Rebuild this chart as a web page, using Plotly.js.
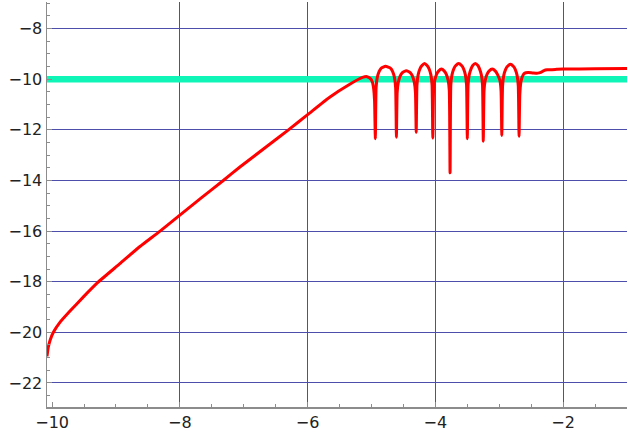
<!DOCTYPE html>
<html>
<head>
<meta charset="utf-8">
<script src="https://cdn.plot.ly/plotly-3.0.1.min.js"></script>
<style>
  html, body { margin: 0; padding: 0; background: #fff; }
  #chart { width: 628px; height: 436px; }
</style>
</head>
<body>
<div id="chart"></div>
<script>
// red curve (smooth rise, then the comb of dips)
var curveX = [
  -10.08, -10.06, -10.03, -9.98, -9.875, -9.72, -9.51, -9.28, -8.94, -8.63, -8.31, -8.0,
  -7.66, -7.32, -7.06, -6.62, -6.3, -6.0, -5.66, -5.34, -5.14, -5.07, -5.02, -4.985, -4.965, -4.952,
  -4.94, -4.928, -4.91, -4.88, -4.85, -4.78, -4.70, -4.67, -4.64, -4.622,
  -4.61, -4.598, -4.58, -4.55, -4.52, -4.455, -4.39, -4.36, -4.33, -4.312,
  -4.30, -4.288, -4.27, -4.24, -4.21, -4.17, -4.13, -4.10, -4.07, -4.052,
  -4.04, -4.028, -4.01, -3.98, -3.95, -3.905, -3.86, -3.83, -3.80, -3.782,
  -3.77, -3.758, -3.74, -3.71, -3.68, -3.635, -3.59, -3.56, -3.53, -3.512,
  -3.50, -3.488, -3.47, -3.44, -3.415, -3.375, -3.335, -3.31, -3.28, -3.262,
  -3.25, -3.238, -3.22, -3.19, -3.16, -3.11, -3.06, -3.03, -2.99, -2.972,
  -2.96, -2.948, -2.93, -2.90, -2.87, -2.825, -2.78, -2.75, -2.72, -2.702,
  -2.69, -2.678, -2.66, -2.63, -2.60, -2.55, -2.48, -2.40, -2.35, -2.30, -2.25, -2.1, -2.0, -1.5, -1.0
];
var curveY = [
  -20.95, -20.59, -20.3, -20.0, -19.6, -19.16, -18.6, -18.02, -17.29, -16.62, -16.0, -15.37,
  -14.68, -14.0, -13.47, -12.62, -12.0, -11.4, -10.72, -10.2, -9.93, -9.9, -9.97, -10.12, -10.4, -10.85,
  -12.35, -10.34, -9.94, -9.69, -9.57, -9.49, -9.57, -9.69, -9.94, -10.34,
  -12.29, -10.52, -10.12, -9.87, -9.75, -9.67, -9.75, -9.87, -10.12, -10.52,
  -12.1, -10.23, -9.83, -9.58, -9.46, -9.38, -9.46, -9.58, -9.83, -10.23,
  -12.32, -10.45, -10.05, -9.8, -9.68, -9.6, -9.68, -9.8, -10.05, -10.45,
  -13.7, -10.23, -9.83, -9.58, -9.46, -9.38, -9.46, -9.58, -9.83, -10.23,
  -12.35, -10.23, -9.83, -9.58, -9.46, -9.38, -9.46, -9.58, -9.83, -10.23,
  -12.45, -10.45, -10.05, -9.8, -9.68, -9.6, -9.68, -9.8, -10.05, -10.45,
  -12.22, -10.26, -9.86, -9.61, -9.49, -9.41, -9.49, -9.61, -9.86, -10.26,
  -12.25, -10.6, -10.1, -9.85, -9.76, -9.74, -9.75, -9.76, -9.73, -9.66, -9.63, -9.61, -9.6, -9.59, -9.58
];

// cyan reference level
var levelX = [-10.08, -1.0];
var levelY = [-10, -10];

var xTicks = [-10, -8, -6, -4, -2];
var xGrid = [-8, -6, -4, -2];
var yTicks = [-22, -20, -18, -16, -14, -12, -10, -8];

var gridColor = '#4d4dab';
var axisColor = '#8c8c8c';
var tickFont = { family: 'DejaVu Sans', size: 16, color: '#222' };

var data = [
  {
    x: levelX, y: levelY, mode: 'lines', hoverinfo: 'skip',
    line: { color: '#0ff5b8', width: 6.5 }
  },
  {
    x: curveX, y: curveY, mode: 'lines',
    line: { color: '#ff0000', width: 3, shape: 'spline', smoothing: 0.5 }
  },
  {
    // invisible carrier for the x gridlines (no line at -10)
    x: levelX, y: levelY, xaxis: 'x2', mode: 'none', hoverinfo: 'skip'
  }
];

var layout = {
  width: 628,
  height: 436,
  margin: { l: 47, r: 1, t: 2, b: 29 },
  paper_bgcolor: '#fff',
  plot_bgcolor: '#fff',
  showlegend: false,
  xaxis: {
    range: [-10.08, -1.0],
    tickvals: xTicks,
    ticktext: xTicks.map(function (v) { return '\u2212' + Math.abs(v); }),
    showgrid: false,
    zeroline: false,
    showline: true,
    linecolor: axisColor,
    linewidth: 1.5,
    ticks: 'inside',
    ticklen: 5,
    tickcolor: axisColor,
    tickfont: tickFont,
    minor: { dtick: 0.5, tick0: 0, ticks: 'inside', ticklen: 3, tickcolor: axisColor, showgrid: false }
  },
  xaxis2: {
    overlaying: 'x',
    range: [-10.08, -1.0],
    tickvals: xGrid,
    showticklabels: false,
    ticks: '',
    showgrid: true,
    gridcolor: gridColor,
    gridwidth: 1,
    zeroline: false,
    showline: false
  },
  yaxis: {
    range: [-22.95, -6.95],
    tickvals: yTicks,
    ticktext: yTicks.map(function (v) { return '\u2212' + Math.abs(v); }),
    showgrid: true,
    gridcolor: gridColor,
    gridwidth: 1,
    zeroline: false,
    showline: true,
    linecolor: axisColor,
    linewidth: 1.5,
    ticks: 'inside',
    ticklen: 5,
    tickcolor: axisColor,
    tickfont: tickFont,
    minor: { dtick: 0.5, tick0: 0, ticks: 'inside', ticklen: 3, tickcolor: axisColor, showgrid: false }
  }
};

Plotly.newPlot('chart', data, layout, { staticPlot: true });
</script>
</body>
</html>
